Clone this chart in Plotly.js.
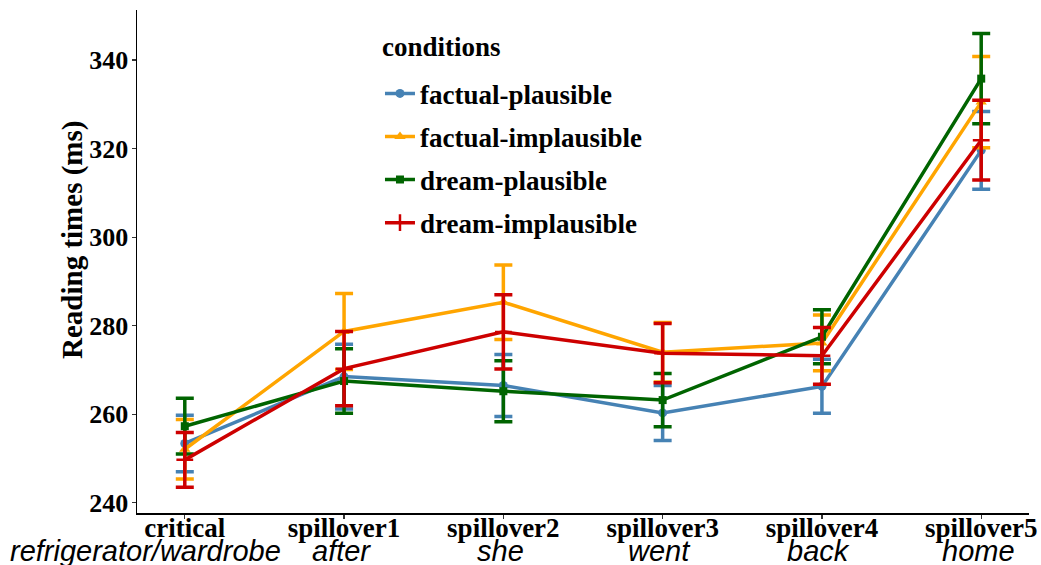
<!DOCTYPE html>
<html>
<head>
<meta charset="utf-8">
<script src="https://cdn.plot.ly/plotly-3.0.1.min.js"></script>
<style>html,body{margin:0;padding:0;background:#fff;}#chart{width:1041px;height:565px;}</style>
</head>
<body>
<div id="chart"></div>
<script>
const regions = ["critical","spillover1","spillover2","spillover3","spillover4","spillover5"];
const words = ["refrigerator/wardrobe","after","she","went","back","home"];
const conditions = ["factual-plausible","factual-implausible","dream-plausible","dream-implausible"];
const legendTitle = "conditions";
const yTitle = "Reading times (ms)";

const factualPlausible = [253.4, 268.5, 266.5, 260.3, 266.3, 319.6];
const factualPlausibleErr = [6.4, 7.3, 7.0, 6.2, 6.1, 8.8];
const factualImplausible = [252.1, 278.7, 285.3, 274.0, 276.1, 330.5];
const factualImplausibleErr = [6.7, 8.6, 8.4, 6.7, 6.3, 10.3];
const dreamPlausible = [257.3, 267.5, 265.2, 263.2, 277.5, 335.8];
const dreamPlausibleErr = [6.3, 7.3, 6.9, 6.0, 6.1, 10.2];
const dreamImplausible = [249.7, 270.3, 278.6, 273.8, 273.2, 321.9];
const dreamImplausibleErr = [6.2, 8.4, 8.4, 6.7, 6.4, 9.0];

const yTicks = [240, 260, 280, 300, 320, 340];

const series = [
  {name: conditions[0], y: factualPlausible, e: factualPlausibleErr, color: "#4682B4", symbol: "circle", size: 9},
  {name: conditions[1], y: factualImplausible, e: factualImplausibleErr, color: "#FFA500", symbol: "triangle-up", size: 10},
  {name: conditions[2], y: dreamPlausible, e: dreamPlausibleErr, color: "#006400", symbol: "square", size: 8},
  {name: conditions[3], y: dreamImplausible, e: dreamImplausibleErr, color: "#CD0000", symbol: "cross-thin-open", size: 12}
];

const xIdx = regions.map((r, i) => i);
const traces = series.map((s, k) => ({
  type: "scatter",
  mode: "lines+markers",
  name: s.name,
  legendgroup: "g" + k,
  x: xIdx,
  y: s.y,
  line: {color: s.color, width: 3.5},
  marker: {symbol: s.symbol, size: s.size, color: s.color, line: {color: s.color, width: s.symbol === "cross-thin-open" ? 2.5 : 0}},
  error_y: {type: "data", array: s.e, visible: true, color: s.color, thickness: 3.5, width: 9}
}));

const serif = "'Liberation Serif', 'Times New Roman', serif";
const sans = "'Liberation Sans', Arial, sans-serif";

const wordAnnotations = words.map((w, i) => ({
  text: w,
  x: i, xref: "x",
  y: -0.075, yref: "paper",
  xanchor: "center", yanchor: "middle",
  xshift: i === 0 ? -39 : -3,
  showarrow: false,
  font: {family: sans, size: 29, style: "italic", color: "#000"}
}));

const layout = {
  width: 1041,
  height: 565,
  margin: {l: 137, r: 12, t: 10, b: 52},
  paper_bgcolor: "#fff",
  plot_bgcolor: "#fff",
  font: {family: serif, size: 27, color: "#000"},
  showlegend: true,
  legend: {
    x: 0.2724, y: 0.882, xanchor: "left", yanchor: "top",
    bgcolor: "rgba(0,0,0,0)",
    font: {family: serif, size: 27, color: "#000", weight: "bold"},
    traceorder: "grouped",
    tracegroupgap: 5,
    itemwidth: 30
  },
  annotations: [
    {text: "<b>" + legendTitle + "</b>", x: 0.2724, xref: "paper", y: 0.9264, yref: "paper",
     xanchor: "left", yanchor: "middle", showarrow: false, font: {family: serif, size: 27, color: "#000"}},
    {text: "<b>" + yTitle + "</b>", x: -0.0729, xref: "paper", y: 0.5427, yref: "paper",
     xanchor: "center", yanchor: "middle", textangle: -90, showarrow: false, font: {family: serif, size: 29, color: "#000"}}
  ].concat(wordAnnotations),
  xaxis: {
    range: [-0.3, 5.3],
    tickmode: "array",
    tickvals: xIdx,
    ticktext: regions.map(r => "<b>" + r + "</b>"),
    tickangle: 0,
    tickfont: {family: serif, size: 27, color: "#000"},
    ticklabelstandoff: -14,
    showgrid: false,
    zeroline: false,
    showline: true,
    linecolor: "#000",
    linewidth: 1.5,
    ticks: "outside",
    ticklen: 4,
    tickwidth: 1.2,
    tickcolor: "#333",
    automargin: false
  },
  yaxis: {
    range: [237.7, 351.3],
    tickmode: "array",
    tickvals: yTicks,
    ticktext: yTicks.map(v => "<b>" + v + "</b>"),
    tickfont: {family: serif, size: 26, color: "#000"},
    ticklabelstandoff: -2,
    showgrid: false,
    zeroline: false,
    showline: true,
    linecolor: "#000",
    linewidth: 1.5,
    ticks: "outside",
    ticklen: 4,
    tickwidth: 1.2,
    tickcolor: "#333",
    automargin: false
  }
};

Plotly.newPlot("chart", traces, layout, {displayModeBar: false, staticPlot: true});
</script>
</body>
</html>
